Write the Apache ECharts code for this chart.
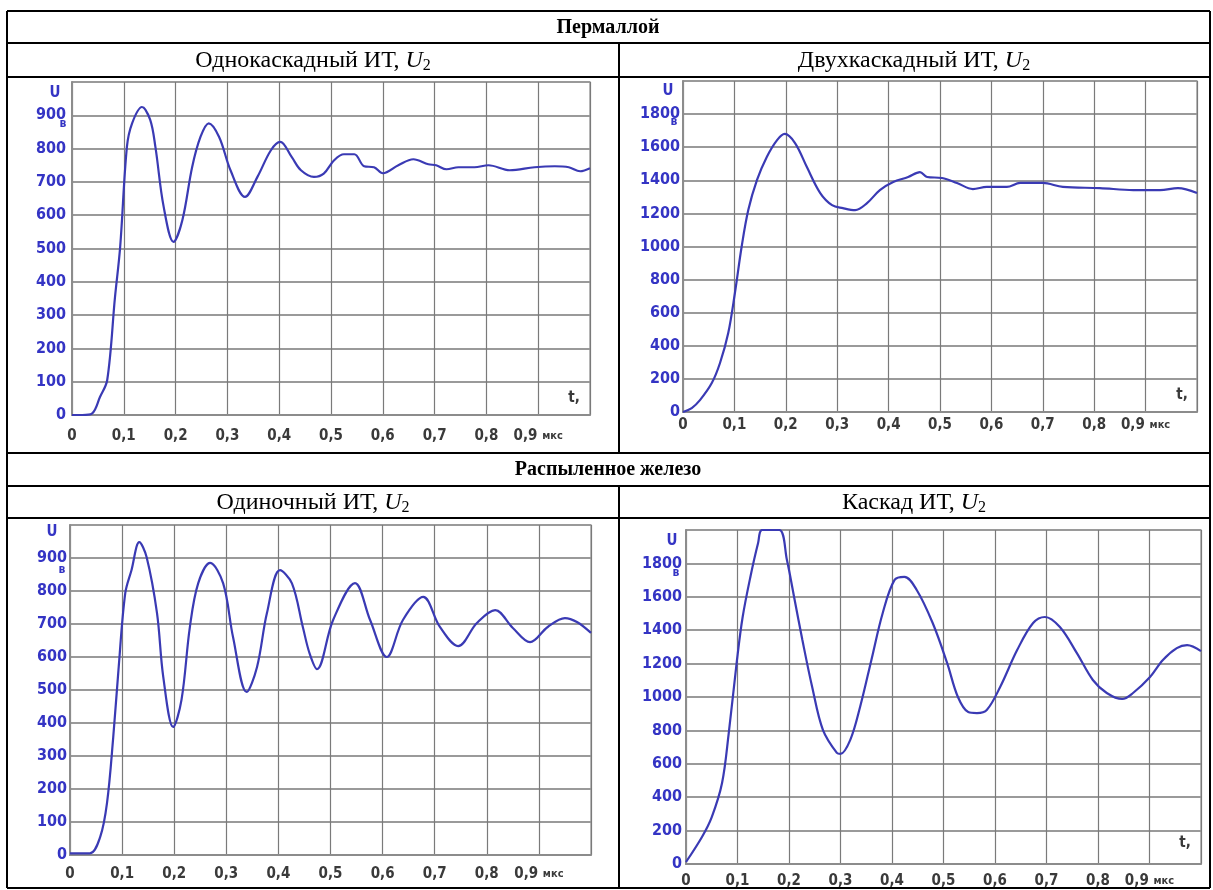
<!DOCTYPE html>
<html>
<head>
<meta charset="utf-8">
<script src="https://cdn.jsdelivr.net/npm/echarts@6/dist/echarts.min.js"></script>
<style>
html,body{margin:0;padding:0;background:#fff;}
#c{width:1213px;height:890px;}
</style>
</head>
<body>
<div id="c"></div>
<script>
// ---- data (t in µs, U in V) ----
const groupTitles = ['Пермаллой', 'Распыленное железо'];
const panelTitles = ['Однокаскадный ИТ, ', 'Двухкаскадный ИТ, ', 'Одиночный ИТ, ', 'Каскад ИТ, '];
const xTickLabels = ['0', '0,1', '0,2', '0,3', '0,4', '0,5', '0,6', '0,7', '0,8', '0,9', ''];

const t1 = [0, 0.02, 0.039, 0.054, 0.068, 0.083, 0.093, 0.106, 0.116, 0.135, 0.151, 0.161, 0.177, 0.196, 0.213, 0.232, 0.248, 0.264, 0.284, 0.306, 0.334, 0.358, 0.384, 0.402, 0.424, 0.442, 0.467, 0.486, 0.506, 0.525, 0.545, 0.564, 0.583, 0.60, 0.63, 0.659, 0.688, 0.703, 0.723, 0.746, 0.777, 0.804, 0.845, 0.893, 0.932, 0.959, 0.981, 1.0];
const u1 = [0, 0, 5, 54, 105, 354, 505, 805, 876, 925, 886, 805, 625, 520, 585, 745, 835, 876, 835, 735, 655, 715, 795, 820, 775, 735, 715, 725, 765, 783, 783, 747, 744, 726, 750, 768, 753, 750, 738, 744, 744, 750, 735, 744, 747, 744, 732, 741];

const t2 = [0, 0.017, 0.033, 0.056, 0.072, 0.088, 0.101, 0.114, 0.127, 0.144, 0.163, 0.183, 0.198, 0.218, 0.241, 0.267, 0.29, 0.311, 0.335, 0.358, 0.383, 0.409, 0.438, 0.461, 0.475, 0.504, 0.533, 0.564, 0.591, 0.63, 0.656, 0.70, 0.739, 0.811, 0.876, 0.928, 0.963, 1.0];
const u2 = [0, 24, 72, 175, 296, 477, 719, 997, 1220, 1402, 1541, 1643, 1680, 1625, 1480, 1323, 1250, 1232, 1220, 1262, 1341, 1390, 1420, 1450, 1420, 1414, 1384, 1347, 1360, 1360, 1384, 1384, 1360, 1353, 1341, 1341, 1353, 1323];

const t3 = [0, 0.038, 0.058, 0.071, 0.083, 0.093, 0.106, 0.118, 0.133, 0.147, 0.167, 0.179, 0.198, 0.214, 0.230, 0.246, 0.269, 0.294, 0.313, 0.339, 0.359, 0.378, 0.403, 0.426, 0.447, 0.46, 0.474, 0.505, 0.547, 0.576, 0.608, 0.639, 0.678, 0.71, 0.745, 0.781, 0.816, 0.85, 0.883, 0.917, 0.95, 0.973, 1.0];
const u3 = [5, 5, 55, 157, 357, 560, 793, 863, 948, 903, 733, 540, 388, 470, 690, 823, 885, 823, 660, 494, 570, 733, 863, 823, 690, 610, 563, 712, 824, 712, 600, 712, 782, 691, 633, 703, 742, 688, 645, 691, 718, 706, 673];

const t4 = [0, 0.031, 0.05, 0.07, 0.083, 0.099, 0.11, 0.125, 0.14, 0.148, 0.181, 0.196, 0.211, 0.226, 0.245, 0.266, 0.293, 0.3, 0.319, 0.338, 0.36, 0.382, 0.405, 0.424, 0.448, 0.479, 0.507, 0.528, 0.548, 0.565, 0.584, 0.61, 0.643, 0.674, 0.697, 0.726, 0.759, 0.79, 0.817, 0.847, 0.868, 0.901, 0.926, 0.953, 0.973, 1.0];
const u4 = [12, 162, 281, 485, 784, 1222, 1479, 1719, 1922, 2000, 2000, 1820, 1581, 1341, 1060, 802, 665, 659, 743, 940, 1222, 1503, 1701, 1719, 1641, 1443, 1204, 1000, 910, 904, 922, 1060, 1281, 1443, 1479, 1419, 1263, 1102, 1024, 988, 1024, 1120, 1222, 1293, 1311, 1275];

const yMax = [1000, 2000, 1000, 2000];
const yStep = [100, 200, 100, 200];
const seriesT = [t1, t2, t3, t4];
const seriesU = [u1, u2, u3, u4];

// ---- layout ----
const grids = [
  {left: 72, top: 82, width: 518, height: 333},
  {left: 683, top: 81, width: 514, height: 331},
  {left: 70, top: 525, width: 521, height: 330},
  {left: 686, top: 530, width: 515, height: 334}
];
const xLabelMargin = [14, 6, 12, 10];
const yLabelMargin = [6, 3, 3, 4];

const BLUE = '#3434c4';
const LINE = '#3a3ab4';
const NARROW = '"Liberation Sans Narrow","Arial Narrow","DejaVu Sans Condensed",sans-serif';
const SERIF = '"Liberation Serif","Times New Roman",serif';

const chart = echarts.init(document.getElementById('c'), null, {renderer: 'canvas'});

const xAxes = [], yAxes = [], series = [];
for (let i = 0; i < 4; i++) {
  xAxes.push({
    gridIndex: i, type: 'value', min: 0, max: 1, interval: 0.1,
    axisLine: {show: true, lineStyle: {color: '#8c8c8c', width: 2}},
    axisTick: {show: false},
    splitLine: {show: true, lineStyle: {color: '#7a7a7a', width: 1.2}},
    axisLabel: {
      margin: xLabelMargin[i], color: '#3a3a3a', fontFamily: NARROW, fontWeight: 'bold', fontSize: 15,
      formatter: function (v) {
        const k = Math.round(v * 10);
        if (k === 9) return '{a|' + xTickLabels[k] + '} {b|мкс}';
        return xTickLabels[k];
      },
      rich: {
        a: {color: '#3a3a3a', fontFamily: NARROW, fontWeight: 'bold', fontSize: 15},
        b: {color: '#3a3a3a', fontFamily: NARROW, fontWeight: 'bold', fontSize: 11}
      }
    }
  });
  yAxes.push({
    gridIndex: i, type: 'value', min: 0, max: yMax[i], interval: yStep[i],
    axisLine: {show: true, lineStyle: {color: '#8c8c8c', width: 2}},
    axisTick: {show: false},
    splitLine: {show: true, lineStyle: {color: '#9a9a9a', width: 2}},
    axisLabel: {
      margin: yLabelMargin[i], color: BLUE, fontFamily: NARROW, fontWeight: 'bold', fontSize: 16,
      formatter: (function (m) { return function (v) { return v >= m ? '' : String(v); }; })(yMax[i])
    }
  });
  series.push({
    type: 'line', xAxisIndex: i, yAxisIndex: i, showSymbol: false, smooth: 0.35,
    lineStyle: {color: LINE, width: 2.2}, clip: true,
    data: seriesT[i].map(function (t, j) { return [t, seriesU[i][j]]; })
  });
}

// table lines
const L = 7, R = 1210, T = 11, B = 888, MID = 619;
const hLines = [43, 77, 453, 486, 518];
const graphic = [];
function line(x1, y1, x2, y2) {
  graphic.push({type: 'line', shape: {x1: x1, y1: y1, x2: x2, y2: y2}, style: {stroke: '#000', lineWidth: 2}, z: 100});
}
line(L, T, R, T); line(L, B, R, B); line(L, T, L, B); line(R, T, R, B);
hLines.forEach(function (y) { line(L, y, R, y); });
line(MID, 43, MID, 453);
line(MID, 486, MID, B);

function text(x, y, str, style) {
  graphic.push({type: 'text', x: x, y: y, style: Object.assign({text: str, textAlign: 'center', textVerticalAlign: 'middle'}, style), z: 100});
}
const headStyle = {font: 'bold 20px ' + SERIF, fill: '#000'};
text(608, 28, groupTitles[0], headStyle);
text(608, 470, groupTitles[1], headStyle);

const subRich = {
  n: {fontFamily: SERIF, fontSize: 24, color: '#000'},
  i: {fontFamily: SERIF, fontSize: 24, fontStyle: 'italic', color: '#000'},
  s: {fontFamily: SERIF, fontSize: 16, color: '#000', padding: [10, 0, 0, 0]}
};
const subPos = [[313, 61], [914, 61], [313, 503], [914, 503]];
for (let i = 0; i < 4; i++) {
  graphic.push({type: 'text', x: subPos[i][0], y: subPos[i][1], z: 100,
    style: {text: '{n|' + panelTitles[i] + '}{i|U}{s|2}', rich: subRich, textAlign: 'center', textVerticalAlign: 'middle'}});
}

// axis name marks
const uPos = [[55, 93], [668, 91], [52, 532], [672, 541]];
const vPos = [[63, 124], [674, 122], [62, 570], [676, 573]];
for (let i = 0; i < 4; i++) {
  text(uPos[i][0], uPos[i][1], 'U', {font: 'bold 15px ' + NARROW, fill: BLUE});
  text(vPos[i][0], vPos[i][1], 'в', {font: 'bold 12px ' + NARROW, fill: BLUE});
}
const tPos = [[574, 398], [1182, 395], [1185, 843]];
tPos.forEach(function (p) { text(p[0], p[1], 't,', {font: 'bold 15px ' + NARROW, fill: '#3a3a3a'}); });

chart.setOption({
  animation: false,
  backgroundColor: '#fff',
  grid: grids.map(function (g) { return Object.assign({show: true, borderColor: '#a8a8a8', borderWidth: 1.5, backgroundColor: '#fff'}, g); }),
  xAxis: xAxes,
  yAxis: yAxes,
  series: series,
  graphic: graphic
});
</script>
</body>
</html>
